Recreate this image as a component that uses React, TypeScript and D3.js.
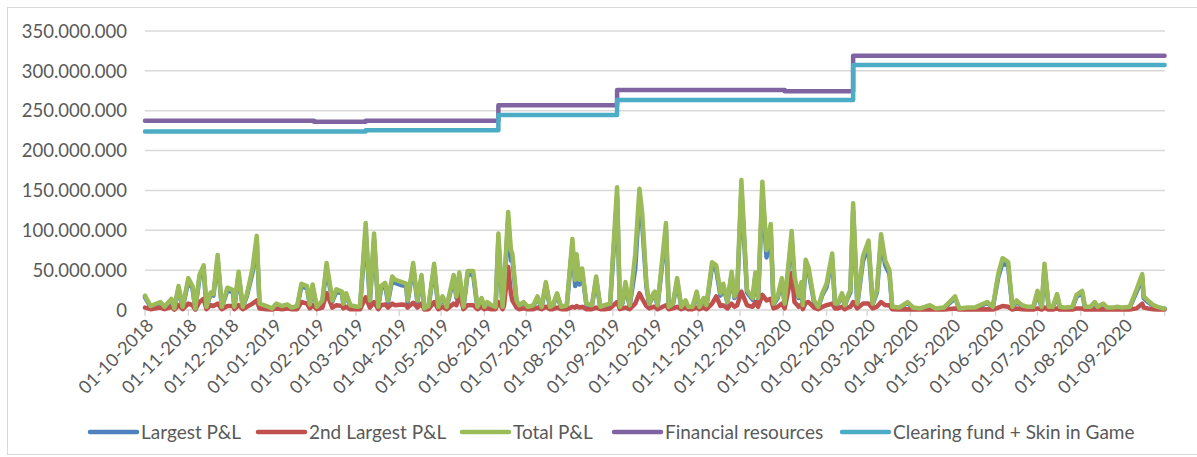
import React from "react";
import * as d3 from "d3";

// values in millions
const pnlDates = [
  "2018-10-01", "2018-10-05", "2018-10-12", "2018-10-15", "2018-10-20", "2018-10-22", "2018-10-25", "2018-10-28",
  "2018-11-01", "2018-11-04", "2018-11-06", "2018-11-09", "2018-11-12", "2018-11-14", "2018-11-17", "2018-11-19", "2018-11-22", "2018-11-25", "2018-11-29",
  "2018-12-03", "2018-12-04", "2018-12-07", "2018-12-10", "2018-12-13", "2018-12-17", "2018-12-20", "2018-12-22", "2018-12-27", "2018-12-31",
  "2019-01-03", "2019-01-07", "2019-01-11", "2019-01-14", "2019-01-18", "2019-01-21", "2019-01-25", "2019-01-27", "2019-01-29",
  "2019-02-01", "2019-02-05", "2019-02-08", "2019-02-11", "2019-02-12", "2019-02-15", "2019-02-19", "2019-02-20", "2019-02-22", "2019-02-25",
  "2019-03-02", "2019-03-04", "2019-03-08", "2019-03-11", "2019-03-14", "2019-03-17", "2019-03-19", "2019-03-22", "2019-03-24", "2019-03-27", "2019-03-29",
  "2019-04-03", "2019-04-06", "2019-04-07", "2019-04-11", "2019-04-14", "2019-04-17", "2019-04-19", "2019-04-22", "2019-04-26", "2019-04-29",
  "2019-05-02", "2019-05-05", "2019-05-10", "2019-05-12", "2019-05-14", "2019-05-17", "2019-05-20", "2019-05-24", "2019-05-27", "2019-05-30",
  "2019-06-01", "2019-06-03", "2019-06-06", "2019-06-09", "2019-06-11", "2019-06-14", "2019-06-15", "2019-06-18", "2019-06-20", "2019-06-21", "2019-06-24", "2019-06-26", "2019-06-29",
  "2019-07-02", "2019-07-06", "2019-07-09", "2019-07-12", "2019-07-15", "2019-07-18", "2019-07-20", "2019-07-23", "2019-07-26", "2019-07-30",
  "2019-08-03", "2019-08-05", "2019-08-06", "2019-08-08", "2019-08-10", "2019-08-13", "2019-08-17", "2019-08-20", "2019-08-23", "2019-08-26", "2019-08-30",
  "2019-09-04", "2019-09-06", "2019-09-08", "2019-09-10", "2019-09-13", "2019-09-17", "2019-09-20", "2019-09-22", "2019-09-25", "2019-09-27", "2019-09-30",
  "2019-10-01", "2019-10-03", "2019-10-09", "2019-10-11", "2019-10-14", "2019-10-17", "2019-10-20", "2019-10-23", "2019-10-25", "2019-10-28", "2019-10-31",
  "2019-11-02", "2019-11-05", "2019-11-07", "2019-11-11", "2019-11-14", "2019-11-17", "2019-11-19", "2019-11-22", "2019-11-25", "2019-11-27", "2019-11-29",
  "2019-12-02", "2019-12-06", "2019-12-10", "2019-12-12", "2019-12-14", "2019-12-17", "2019-12-20", "2019-12-23", "2019-12-25", "2019-12-28", "2019-12-31",
  "2020-01-02", "2020-01-07", "2020-01-09", "2020-01-12", "2020-01-14", "2020-01-15", "2020-01-17", "2020-01-19", "2020-01-23", "2020-01-26", "2020-01-29",
  "2020-02-01", "2020-02-05", "2020-02-07", "2020-02-09", "2020-02-12", "2020-02-14", "2020-02-16", "2020-02-18", "2020-02-20", "2020-02-23", "2020-02-27",
  "2020-03-02", "2020-03-05", "2020-03-08", "2020-03-11", "2020-03-14", "2020-03-17", "2020-03-19", "2020-03-24", "2020-03-30",
  "2020-04-03", "2020-04-08", "2020-04-15", "2020-04-19", "2020-04-25",
  "2020-05-03", "2020-05-06", "2020-05-12", "2020-05-17", "2020-05-26", "2020-05-30",
  "2020-06-03", "2020-06-06", "2020-06-10", "2020-06-13", "2020-06-16", "2020-06-20", "2020-06-24", "2020-06-28",
  "2020-07-01", "2020-07-04", "2020-07-06", "2020-07-09", "2020-07-12", "2020-07-15", "2020-07-17", "2020-07-21", "2020-07-26", "2020-07-29",
  "2020-08-02", "2020-08-04", "2020-08-08", "2020-08-11", "2020-08-13", "2020-08-17", "2020-08-20", "2020-08-24", "2020-08-27", "2020-08-31",
  "2020-09-05", "2020-09-10", "2020-09-14", "2020-09-15", "2020-09-18", "2020-09-22", "2020-09-25", "2020-09-29", "2020-09-30",
];

const largestPnl = [
  16, 4, 9, 3, 12, 1.5, 27, 3,
  36, 27, 1.5, 40, 50, 3, 20, 18, 63, 3, 25,
  22, 3, 44, 3, 18, 47, 86, 7, 4, 1.5,
  7, 4, 6, 2, 4, 30, 27, 6, 29,
  3, 10, 52, 22, 10, 23, 21, 7, 19, 5,
  3, 4, 98, 10, 88, 3, 27, 30, 10, 38, 34,
  31, 30, 10, 54, 10, 40, 1.5, 4, 53, 3,
  15, 3, 40, 15, 42, 3, 45, 44, 3, 13,
  3, 9, 5, 3, 88, 3, 22, 112, 62, 64, 10, 5, 9,
  3, 5, 15, 3, 32, 3, 5, 19, 3, 5,
  82, 30, 62, 32, 47, 7, 5, 38, 3, 5, 7,
  142, 3, 9, 31, 5, 52, 140, 108, 29, 7, 19,
  20, 5, 100, 3, 7, 36, 3, 10, 3, 3, 20,
  3, 13, 5, 55, 50, 18, 30, 9, 44, 15, 22,
  150, 22, 13, 43, 13, 148, 66, 98, 7, 15, 36,
  7, 90, 38, 15, 31, 5, 57, 49, 10, 3, 19,
  29, 65, 7, 7, 19, 5, 15, 22, 124, 7, 61,
  80, 7, 22, 87, 56, 45, 3, 2, 9,
  2, 1.5, 5, 1.5, 2,
  15, 1.5, 2, 2, 9, 3,
  42, 59, 55, 3, 10, 5, 3, 3,
  21, 3, 53, 3, 3, 18, 3, 2, 3, 17,
  21, 3, 3, 9, 3, 7, 2, 2, 3, 2,
  3, 23, 41, 15, 10, 5, 3, 1.5, 1.5,
];

const secondPnl = [
  3, 1, 3, 1, 4, 0.5, 6, 1,
  8, 6, 0.5, 10, 14, 1, 6, 5, 8, 1, 5,
  5, 1, 6, 1, 4, 8, 12, 2, 1, 0.5,
  2, 1, 2, 1, 1, 10, 8, 2, 6,
  1, 3, 21, 8, 3, 6, 5, 2, 4, 1,
  1, 1, 16, 3, 10, 1, 6, 7, 3, 8, 6,
  7, 6, 3, 9, 3, 8, 0.5, 1, 10, 1,
  4, 1, 8, 6, 20, 1, 6, 6, 1, 4,
  1, 2, 1, 1, 10, 1, 5, 54, 20, 12, 3, 1, 2,
  1, 1, 3, 1, 4, 1, 1, 3, 1, 1,
  4, 3, 5, 3, 4, 1, 1, 3, 1, 1, 2,
  10, 1, 2, 3, 1, 8, 21, 14, 5, 2, 4,
  4, 1, 6, 1, 2, 4, 1, 3, 1, 1, 3,
  1, 3, 1, 8, 17, 5, 6, 2, 8, 4, 6,
  23, 6, 4, 10, 4, 19, 12, 14, 2, 4, 8,
  2, 46, 10, 4, 7, 1, 9, 10, 3, 1, 4,
  6, 8, 2, 2, 4, 1, 3, 4, 10, 2, 8,
  8, 2, 4, 10, 6, 6, 1, 0.5, 1,
  0.5, 0.5, 1, 0.5, 0.5,
  2, 0.5, 0.5, 0.5, 1, 0.5,
  3, 5, 4, 0.5, 2, 1, 0.5, 0.5,
  2, 0.5, 3, 0.5, 0.5, 2, 0.5, 0.5, 0.5, 2,
  2, 0.5, 0.5, 1, 0.5, 1, 0.5, 0.5, 0.5, 0.5,
  0.5, 2, 8, 3, 2, 1, 0.5, 0.5, 0.5,
];

const totalPnl = [
  18, 5, 10, 4, 14, 2, 30, 4,
  40, 30, 2, 44, 56, 4, 22, 20, 69, 4, 28,
  25, 4, 48, 4, 20, 52, 93, 8, 5, 2,
  8, 5, 7, 3, 5, 33, 30, 7, 32,
  4, 12, 59, 25, 12, 26, 23, 8, 21, 6,
  4, 5, 109, 12, 96, 4, 30, 34, 12, 42, 38,
  35, 33, 12, 59, 12, 44, 2, 5, 58, 4,
  17, 4, 44, 17, 47, 4, 49, 49, 4, 15,
  4, 10, 6, 4, 96, 4, 25, 123, 75, 71, 12, 6, 10,
  4, 6, 17, 4, 35, 4, 6, 21, 4, 6,
  89, 38, 70, 38, 52, 8, 6, 42, 4, 6, 8,
  154, 4, 10, 35, 6, 70, 152, 121, 33, 8, 21,
  23, 6, 109, 4, 8, 40, 4, 12, 4, 4, 23,
  4, 15, 6, 60, 56, 21, 33, 10, 48, 17, 25,
  163, 25, 15, 47, 15, 161, 75, 108, 8, 17, 40,
  8, 99, 42, 17, 35, 6, 63, 54, 12, 4, 21,
  33, 71, 8, 8, 21, 6, 17, 25, 134, 8, 67,
  87, 8, 25, 95, 62, 50, 4, 3, 10,
  3, 2, 6, 2, 3,
  17, 2, 3, 3, 10, 4,
  46, 65, 60, 4, 12, 6, 4, 4,
  24, 4, 58, 4, 4, 20, 4, 3, 4, 19,
  24, 4, 4, 10, 4, 8, 3, 3, 4, 3,
  4, 26, 45, 17, 12, 6, 4, 2, 2,
];

const resourceDates = ["2018-10-01", "2019-01-30", "2019-03-08", "2019-06-11", "2019-09-04", "2020-01-02", "2020-02-20", "2020-09-30"];
const financialResources = [237.5, 236, 237.5, 256.7, 276, 274.3, 319, 319];

const clearingDates = ["2018-10-01", "2019-03-08", "2019-06-11", "2019-09-04", "2020-02-20", "2020-09-30"];
const clearingFund = [224, 225.5, 244.6, 263.4, 307.3, 307.3];

const xTickDates = [
  "2018-10-01", "2018-11-01", "2018-12-01", "2019-01-01", "2019-02-01", "2019-03-01",
  "2019-04-01", "2019-05-01", "2019-06-01", "2019-07-01", "2019-08-01", "2019-09-01",
  "2019-10-01", "2019-11-01", "2019-12-01", "2020-01-01", "2020-02-01", "2020-03-01",
  "2020-04-01", "2020-05-01", "2020-06-01", "2020-07-01", "2020-08-01", "2020-09-01",
];
const yTicks = [0, 50, 100, 150, 200, 250, 300, 350];

const seriesNames = ["Largest P&L", "2nd Largest P&L", "Total P&L", "Financial resources", "Clearing fund + Skin in Game"];
const seriesColors = ["#4F81BD", "#C0504D", "#9BBB59", "#8064A2", "#4BACC6"];
const legendX = [90, 258, 462, 614, 842];

const W = 1197;
const H = 457;
const FONT = "Lato, 'Liberation Sans', sans-serif";

const parse = d3.timeParse("%Y-%m-%d");
const fmtDate = d3.timeFormat("%d-%m-%Y");
const locale = d3.formatLocale({ decimal: ",", thousands: ".", grouping: [3], currency: ["", "€"] });
const fmtNum = locale.format(",.0f");

export default function App() {
  const x = d3.scaleTime()
    .domain([parse("2018-10-01"), parse("2020-09-30")])
    .range([145, 1164.6]);
  const y = d3.scaleLinear().domain([0, 350]).range([310, 31]);

  const pnlLine = (vals) => d3.line()
    .x((d) => x(d[0]))
    .y((d) => y(d[1]))(pnlDates.map((s, i) => [parse(s), vals[i]]));

  const stepLine = (dates, vals) => d3.line()
    .x((d) => x(d[0]))
    .y((d) => y(d[1]))
    .curve(d3.curveStepAfter)(dates.map((s, i) => [parse(s), vals[i]]));

  const paths = [
    pnlLine(largestPnl),
    pnlLine(secondPnl),
    pnlLine(totalPnl),
    stepLine(resourceDates, financialResources),
    stepLine(clearingDates, clearingFund),
  ];

  const tickXs = xTickDates.map((s) => x(parse(s))).concat([x.range()[1]]);

  return (
    <svg width={W} height={H} style={{ position: "absolute", left: 0, top: 0, background: "#fff" }}
      fontFamily={FONT}>
      <rect x={7.5} y={7.5} width={1190} height={447} fill="#fff" stroke="#D9D9D9" />

      {yTicks.map((t) => (
        <g key={t}>
          <line x1={145} x2={1165} y1={y(t)} y2={y(t)} stroke="#D9D9D9" strokeWidth={1.5} />
          <text x={127} y={y(t)} dy="0.36em" textAnchor="end" fontSize={18.5} fill="#595959">
            {fmtNum(t * 1e6)}
          </text>
        </g>
      ))}

      {tickXs.map((tx, i) => (
        <line key={i} x1={tx} x2={tx} y1={310} y2={316} stroke="#D9D9D9" strokeWidth={1.5} />
      ))}

      {xTickDates.map((s) => {
        const tx = x(parse(s));
        return (
          <text key={s} transform={`translate(${tx + 5},${322}) rotate(-45)`} textAnchor="end"
            dy="0.36em" fontSize={18} fill="#595959">
            {fmtDate(parse(s))}
          </text>
        );
      })}

      {paths.map((p, i) => (
        <path key={i} d={p} fill="none" stroke={seriesColors[i]} strokeWidth={i < 3 ? 4.5 : 4.5}
          strokeLinejoin="round" strokeLinecap="round" />
      ))}

      {seriesNames.map((n, i) => (
        <g key={n}>
          <line x1={legendX[i]} x2={legendX[i] + 47} y1={432} y2={432} stroke={seriesColors[i]}
            strokeWidth={4.5} strokeLinecap="round" />
          <text x={legendX[i] + 51} y={432} dy="0.36em" fontSize={19} fill="#595959">{n}</text>
        </g>
      ))}
    </svg>
  );
}
